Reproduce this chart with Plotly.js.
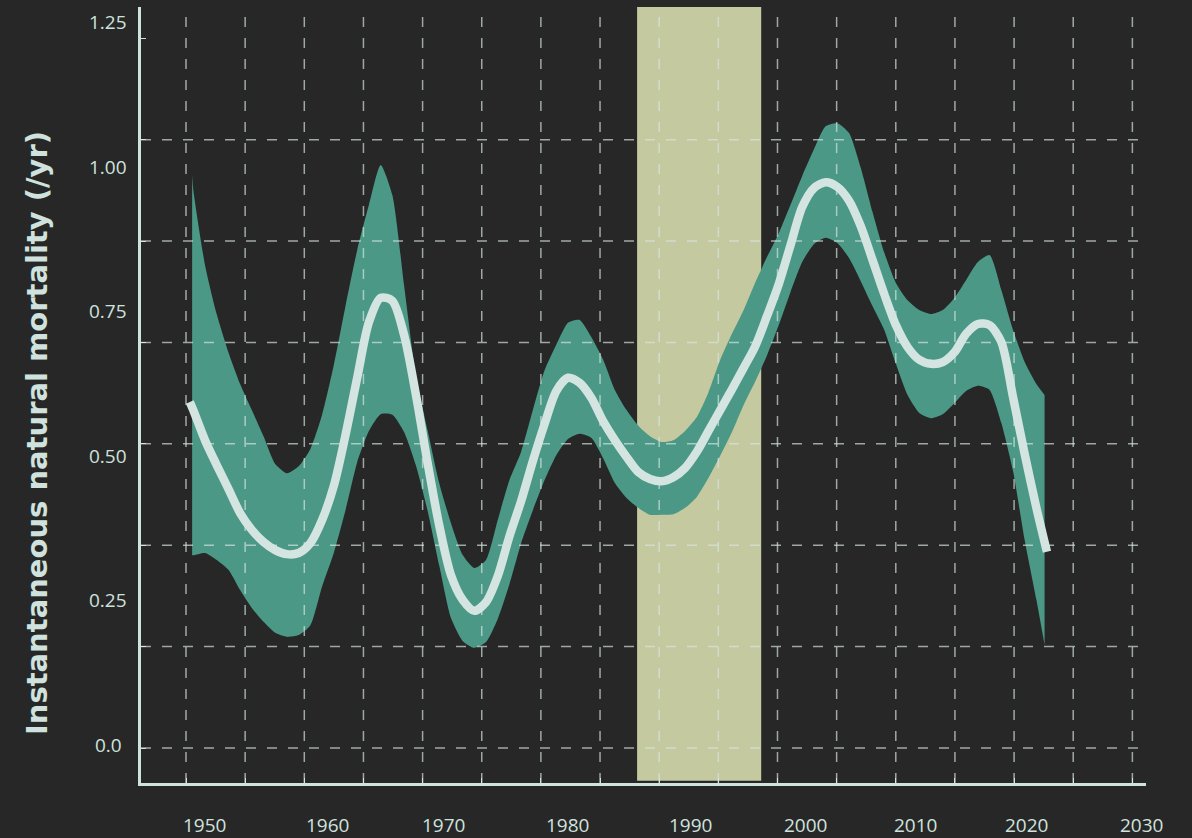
<!DOCTYPE html>
<html>
<head>
<meta charset="utf-8">
<script src="https://cdn.plot.ly/plotly-3.0.1.min.js"></script>
<style>
  html, body { margin: 0; padding: 0; background: #272727; }
  #chart { width: 1192px; height: 838px; }
</style>
</head>
<body>
<div id="chart"></div>
<script>
// ---------- DATA ----------
const lineYears = [1948.7, 1949, 1950, 1951, 1952, 1953, 1954, 1955, 1956, 1957, 1958, 1959,
  1960, 1961, 1962, 1963, 1964, 1965, 1966, 1967, 1968, 1969,
  1970, 1971, 1972, 1973, 1974, 1975, 1976, 1977, 1978, 1979,
  1980, 1981, 1982, 1983, 1984, 1985, 1986, 1987, 1988, 1989,
  1990, 1991, 1992, 1993, 1994, 1995, 1996, 1997, 1998, 1999,
  2000, 2001, 2002, 2003, 2004, 2005, 2006, 2007, 2008, 2009,
  2010, 2011, 2012, 2013, 2014, 2015, 2016, 2017, 2018, 2019,
  2020, 2021, 2021.9];

const mortality = [0.593, 0.579, 0.527, 0.484, 0.443, 0.401, 0.372, 0.351, 0.337, 0.330,
  0.332, 0.349, 0.389, 0.448, 0.536, 0.635, 0.731, 0.773, 0.768, 0.709,
  0.607, 0.489, 0.380, 0.294, 0.251, 0.232, 0.247, 0.292, 0.361, 0.422,
  0.491, 0.555, 0.612, 0.635, 0.626, 0.600, 0.560, 0.527, 0.498, 0.472,
  0.460, 0.456, 0.463, 0.479, 0.507, 0.543, 0.579, 0.615, 0.652, 0.690,
  0.742, 0.797, 0.864, 0.930, 0.963, 0.973, 0.965, 0.941, 0.897, 0.839,
  0.780, 0.726, 0.688, 0.666, 0.659, 0.662, 0.679, 0.711, 0.728, 0.726,
  0.697, 0.602, 0.503, 0.410, 0.334];

const bandYears = [1948.9, 1949, 1950, 1951, 1952, 1953, 1954, 1955, 1956, 1957, 1958, 1959,
  1960, 1961, 1962, 1963, 1964, 1965, 1966, 1967, 1968, 1969,
  1970, 1971, 1972, 1973, 1974, 1975, 1976, 1977, 1978, 1979,
  1980, 1981, 1982, 1983, 1984, 1985, 1986, 1987, 1988, 1989,
  1990, 1991, 1992, 1993, 1994, 1995, 1996, 1997, 1998, 1999,
  2000, 2001, 2002, 2003, 2004, 2005, 2006, 2007, 2008, 2009,
  2010, 2011, 2012, 2013, 2014, 2015, 2016, 2017, 2018, 2019,
  2020, 2021, 2021.7];

const upperCI = [0.986, 0.960, 0.830, 0.745, 0.679, 0.624, 0.579, 0.534, 0.486, 0.470,
  0.482, 0.512, 0.571, 0.657, 0.759, 0.856, 0.934, 1.003, 0.951, 0.795,
  0.640, 0.545, 0.453, 0.384, 0.329, 0.306, 0.320, 0.389, 0.458, 0.507,
  0.579, 0.648, 0.692, 0.730, 0.735, 0.705, 0.666, 0.614, 0.579, 0.552,
  0.534, 0.524, 0.527, 0.543, 0.567, 0.610, 0.666, 0.711, 0.752, 0.800,
  0.844, 0.885, 0.934, 0.984, 1.030, 1.070, 1.075, 1.058, 0.998, 0.922,
  0.852, 0.799, 0.769, 0.752, 0.745, 0.752, 0.773, 0.804, 0.835, 0.847,
  0.787, 0.718, 0.662, 0.624, 0.605];

const lowerCI = [0.328, 0.328, 0.332, 0.320, 0.303, 0.268, 0.237, 0.213, 0.194, 0.187,
  0.190, 0.207, 0.274, 0.332, 0.406, 0.489, 0.543, 0.572, 0.571, 0.541,
  0.484, 0.406, 0.311, 0.220, 0.180, 0.168, 0.178, 0.218, 0.278, 0.349,
  0.406, 0.458, 0.501, 0.529, 0.538, 0.531, 0.496, 0.453, 0.427, 0.410,
  0.398, 0.398, 0.399, 0.410, 0.429, 0.462, 0.500, 0.541, 0.588, 0.629,
  0.674, 0.726, 0.783, 0.835, 0.866, 0.877, 0.868, 0.842, 0.802, 0.759,
  0.718, 0.659, 0.605, 0.574, 0.565, 0.572, 0.591, 0.612, 0.621, 0.614,
  0.557, 0.474, 0.354, 0.251, 0.173];

const highlightStart = [1986.9];
const highlightEnd = [1997.5];

const xTickVals = [1950, 1960, 1970, 1980, 1990, 2000, 2010, 2020, 2030];
const xTickLabels = ['1950', '1960', '1970', '1980', '1990', '2000', '2010', '2020', '2030'];
const yTickVals = [0, 0.25, 0.5, 0.75, 1.0, 1.25];
const yTickLabels = ['0.0', '0.25', '0.50', '0.75', '1.00', '1.25'];
const yTitle = 'Instantaneous natural mortality (/yr)';

// ---------- STYLE ----------
const BG = '#272727';
const AXIS_COLOR = '#cfe2de';
const BAND_COLOR = '#4a9885';
const LINE_COLOR = '#d3e4e1';
const HIGHLIGHT = '#c5c9a0';
const GRID_COLOR = 'rgba(215,230,226,0.68)';
const xLabelNudge = [0, 5, 4, 11, 17, 15, 8, 2, 0];

const xRange = [1944.535, 2030.36];
const yRange = [-0.0657, 1.276];
const gridX = {start: 1948.378, step: 5.0512, count: 17};
const gridY = {start: -0.0052, step: 0.17531, count: 7};

// ---------- TRACES ----------
const traces = [
  {
    x: bandYears, y: lowerCI, type: 'scatter', mode: 'lines',
    line: {width: 0, color: BAND_COLOR, shape: 'spline', smoothing: 0.6},
    hoverinfo: 'skip', showlegend: false
  },
  {
    x: bandYears, y: upperCI, type: 'scatter', mode: 'lines',
    fill: 'tonexty', fillcolor: BAND_COLOR,
    line: {width: 0, color: BAND_COLOR, shape: 'spline', smoothing: 0.6},
    hoverinfo: 'skip', showlegend: false
  },
  {
    x: lineYears, y: mortality, type: 'scatter', mode: 'lines',
    line: {width: 8.5, color: LINE_COLOR, shape: 'spline', smoothing: 0.8},
    showlegend: false
  }
];

// ---------- SHAPES ----------
const shapes = [];
highlightStart.forEach((s, i) => {
  shapes.push({
    type: 'rect', xref: 'x', yref: 'paper', x0: s, x1: highlightEnd[i], y0: 0.003, y1: 1,
    fillcolor: HIGHLIGHT, line: {width: 0}, layer: 'below'
  });
});
for (let k = 0; k < gridX.count; k++) {
  const gx = gridX.start + k * gridX.step;
  shapes.push({
    type: 'line', xref: 'x', yref: 'paper', x0: gx, x1: gx, y0: 0, y1: 1,
    line: {color: GRID_COLOR, width: 1.5, dash: '10px,11px'}, layer: 'above'
  });
}
for (let k = 0; k < gridY.count; k++) {
  const gy = gridY.start + k * gridY.step;
  shapes.push({
    type: 'line', xref: 'paper', yref: 'y', x0: 0, x1: 1, y0: gy, y1: gy,
    line: {color: GRID_COLOR, width: 1.5, dash: '10px,11px'}, layer: 'above'
  });
}

// ---------- ANNOTATIONS (tick labels + axis title) ----------
const tickFont = {family: '"Open Sans", sans-serif', size: 19, color: AXIS_COLOR};
const annotations = [];
xTickVals.forEach((v, i) => {
  annotations.push({
    x: v, y: -0.054, xref: 'x', yref: 'paper', text: xTickLabels[i],
    showarrow: false, xanchor: 'center', yanchor: 'middle', xshift: xLabelNudge[i], font: tickFont
  });
});
yTickVals.forEach((v, i) => {
  annotations.push({
    x: -0.0328, y: v, xref: 'paper', yref: 'y', text: yTickLabels[i],
    showarrow: false, xanchor: 'center', yanchor: 'middle', font: tickFont
  });
});
annotations.push({
  x: -0.1035, y: 0.451, xref: 'paper', yref: 'paper', text: yTitle, textangle: -90,
  showarrow: false, xanchor: 'center', yanchor: 'middle',
  font: {family: '"DejaVu Sans", sans-serif', size: 29, color: AXIS_COLOR, weight: 700}
});

const layout = {
  width: 1192, height: 838,
  margin: {l: 141, r: 46, t: 7, b: 55},
  paper_bgcolor: BG, plot_bgcolor: BG,
  showlegend: false,
  xaxis: {
    range: xRange, showgrid: false, zeroline: false,
    showline: true, linecolor: AXIS_COLOR, linewidth: 3,
    ticks: 'inside', ticklen: 5, tickwidth: 1, tickcolor: AXIS_COLOR,
    tickmode: 'linear', tick0: gridX.start, dtick: gridX.step,
    showticklabels: false, fixedrange: true
  },
  yaxis: {
    range: yRange, showgrid: false, zeroline: false,
    showline: true, linecolor: AXIS_COLOR, linewidth: 3,
    ticks: 'inside', ticklen: 5, tickwidth: 1, tickcolor: AXIS_COLOR,
    tickmode: 'linear', tick0: gridY.start, dtick: gridY.step,
    showticklabels: false, fixedrange: true
  },
  shapes: shapes,
  annotations: annotations
};

Plotly.newPlot('chart', traces, layout, {displayModeBar: false, staticPlot: true});
</script>
</body>
</html>
